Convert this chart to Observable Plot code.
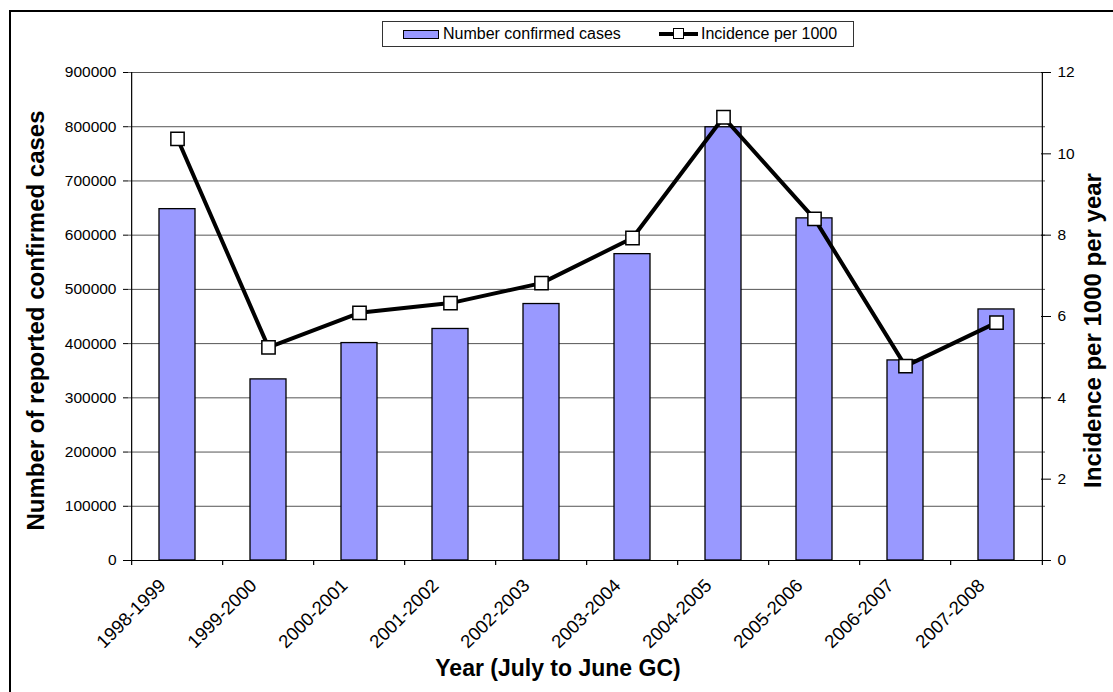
<!DOCTYPE html>
<html>
<head>
<meta charset="utf-8">
<script src="https://cdn.jsdelivr.net/npm/d3@7"></script>
<script src="https://cdn.jsdelivr.net/npm/@observablehq/plot@0.6"></script>
<style>
  html, body { margin: 0; padding: 0; background: white; }
  #wrap { position: relative; width: 1113px; height: 692px; overflow: hidden; font-family: "Liberation Sans", Arial, sans-serif; }
  #border { position: absolute; left: 9px; top: 10px; width: 1200px; height: 800px; border: 2px solid black; box-sizing: border-box; pointer-events: none; }
  #chart { position: absolute; left: 0; top: 0; }
  #legend { position: absolute; left: 382px; top: 21px; width: 472px; height: 26px; border: 1px solid #333; background: white; box-sizing: border-box; font-size: 16px; color: black; }
  #legend .sw { position: absolute; left: 20px; top: 8px; width: 36px; height: 9px; background: #9999ff; border: 1px solid black; box-sizing: border-box; }
  #legend .t1 { position: absolute; left: 60px; top: 3px; line-height: 18px; }
  #legend .ln { position: absolute; left: 276px; top: 10px; width: 39px; height: 4px; background: black; }
  #legend .sq { position: absolute; left: 290px; top: 6px; width: 11px; height: 11px; background: white; border: 1.5px solid black; box-sizing: border-box; }
  #legend .t2 { position: absolute; left: 318px; top: 3px; line-height: 18px; }
</style>
</head>
<body>
<div id="wrap">
  <div id="chart"></div>
  <div id="border"></div>
  <div id="legend">
    <div class="sw"></div><div class="t1">Number confirmed cases</div>
    <div class="ln"></div><div class="sq"></div><div class="t2">Incidence per 1000</div>
  </div>
</div>
<script>
const years = ["1998-1999", "1999-2000", "2000-2001", "2001-2002", "2002-2003", "2003-2004", "2004-2005", "2005-2006", "2006-2007", "2007-2008"];
const cases = [648000, 334000, 401000, 427000, 473000, 565000, 799000, 631000, 369000, 463000];
const incidence = [10.37, 5.24, 6.09, 6.33, 6.82, 7.93, 10.90, 8.40, 4.78, 5.85];
const leftTicks = [0, 100000, 200000, 300000, 400000, 500000, 600000, 700000, 800000, 900000];
const rightTicks = [0, 2, 4, 6, 8, 10, 12];

const leftMax = 900000;
const rightMax = 12;
const ratio = leftMax / rightMax;

const data = years.map((year, i) => ({year, cases: cases[i], inc: incidence[i]}));

const W = 1113, H = 692, mL = 128, mR = 68, mT = 72, mB = 132;
const frameH = H - mT - mB;
const step = (W - mL - mR) / years.length;

const chart = Plot.plot({
  width: W, height: H,
  marginLeft: mL, marginRight: mR, marginTop: mT, marginBottom: mB,
  x: {domain: years, paddingInner: 0.6, paddingOuter: 0.3, axis: null},
  y: {domain: [0, leftMax], axis: null},
  style: {fontFamily: "Liberation Sans, Arial, sans-serif", fontSize: "15px", color: "black", background: "transparent"},
  marks: [
    Plot.ruleY(leftTicks.slice(1), {stroke: "#555", strokeWidth: 1}),
    Plot.barY(data, {x: "year", y: "cases", fill: "#9999ff", stroke: "black", strokeWidth: 1.3}),
    Plot.ruleY([0], {stroke: "black", strokeWidth: 1.2}),
    Plot.ruleX([years[0]], {x: d => d, dx: -step / 2, insetBottom: -5, stroke: "black", strokeWidth: 1.2}),
    Plot.ruleX([years[years.length - 1]], {x: d => d, dx: step / 2, insetBottom: -5, stroke: "black", strokeWidth: 1.2}),
    Plot.ruleX(years.slice(1), {x: d => d, dx: -step / 2, insetTop: frameH, insetBottom: -5, stroke: "black", strokeWidth: 1.2}),
    Plot.axisY(leftTicks, {anchor: "left", label: null, tickSize: 5, tickPadding: 7, tickFormat: d => String(d), fontSize: 15.5}),
    Plot.axisY(rightTicks.map(v => v * ratio), {anchor: "right", label: null, tickSize: 5, tickPadding: 7, tickFormat: d => String(Math.round(d / ratio)), fontSize: 15.5}),
    Plot.axisY(rightTicks.map(v => v * ratio), {anchor: "right", label: null, tickSize: 5, dx: -5, tickFormat: () => ""}),
    Plot.line(data, {x: "year", y: d => d.inc * ratio, stroke: "black", strokeWidth: 4}),
    Plot.dot(data, {x: "year", y: d => d.inc * ratio, symbol: "square", r: 7.5, fill: "white", stroke: "black", strokeWidth: 1.5}),
    Plot.text(years, {x: d => d, text: d => d, frameAnchor: "bottom", rotate: -45, textAnchor: "end", lineAnchor: "middle", dx: -15, dy: 22, fontSize: 18.5}),
    Plot.text(["Number of reported confirmed cases"], {text: d => d, frameAnchor: "left", textAnchor: "middle", rotate: -90, dx: -92, dy: 4, fontWeight: "bold", fontSize: 24, lineAnchor: "middle"}),
    Plot.text(["Incidence per 1000 per year"], {text: d => d, frameAnchor: "right", textAnchor: "middle", rotate: -90, dx: 48, dy: 14, fontWeight: "bold", fontSize: 24, lineAnchor: "middle"}),
    Plot.text(["Year (July to June GC)"], {text: d => d, frameAnchor: "bottom", textAnchor: "middle", dx: -29, dy: 108, fontWeight: "bold", fontSize: 23, lineAnchor: "middle"})
  ]
});
document.getElementById("chart").appendChild(chart);
</script>
</body>
</html>
